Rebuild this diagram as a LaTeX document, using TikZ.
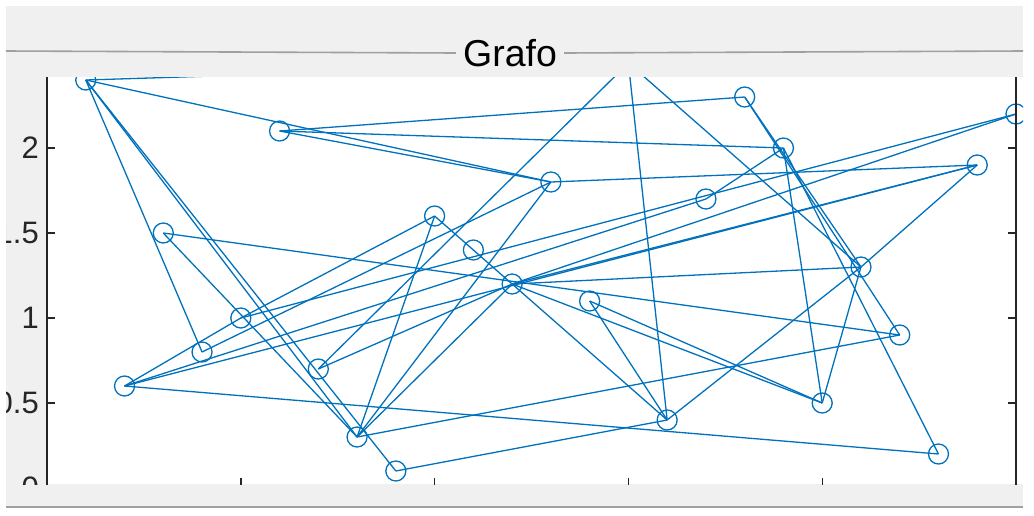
\documentclass[tikz,border=0pt]{standalone}
\usepackage{fontspec}
\setmainfont{Liberation Sans}
\definecolor{mblue}{HTML}{0072BD}
\definecolor{panelgray}{HTML}{F0F0F0}
\definecolor{framegray}{HTML}{A0A0A0}
\definecolor{axisgray}{HTML}{262626}
\begin{document}
\begin{tikzpicture}[x=1pt,y=-1pt,
  mk/.style={circle,draw=mblue,line width=1.3pt,minimum size=20pt,inner sep=0pt},
  edge/.style={draw=mblue,line width=1.3pt},
  axisline/.style={draw=axisgray,line width=1.4pt},
  ticklab/.style={font=\fontsize{31}{31}\selectfont,text=axisgray,anchor=east,inner sep=0pt}]
\useasboundingbox (0,0) rectangle (1034,515);
\fill[white] (0,0) rectangle (1034,515);
\fill[panelgray] (6,6) rectangle (1023,508);
\node[font=\fontsize{37.5}{37.5}\selectfont,inner xsep=7pt,inner ysep=0pt,fill=panelgray] (title) at (510,53) {Grafo};
\draw[framegray,line width=1.6pt] (6,51) -- (title.west);
\draw[framegray,line width=1.6pt] (title.east) -- (1023,51);
\draw[framegray,line width=1.6pt] (6,507) -- (1023,507);
\begin{scope}
\clip (6,77) rectangle (1023,484);
\fill[white] (47,77) rectangle (1023,484);
% nodes: x=47+38.76*v, y=488-170*v
\foreach \i/\yy in {1/2.4,2/0.6,3/1.5,4/0.8,5/1.0,6/2.1,7/0.7,8/0.3,9/0.1,10/1.6,11/1.4,12/1.2,13/1.8,14/1.1,15/2.5,16/0.4,17/1.7,18/2.3,19/2.0,20/0.5,21/1.3,22/0.9,23/0.2,24/1.9,25/2.2}
  \node[mk] (n\i) at ({47+38.76*\i},{488-170*\yy}) {};
\foreach \a/\b in {1/15,1/13,1/4,1/8,1/9,6/18,6/19,6/13,3/8,3/22,2/5,2/17,2/23,4/13,5/10,7/12,7/15,8/10,8/12,8/13,8/22,9/16,10/16,12/24,12/20,12/21,12/25,13/24,14/16,14/20,15/16,15/21,16/21,17/19,18/21,18/22,19/20,19/23,20/21,21/24,24/2,25/5}
  \draw[edge] (n\a.center) -- (n\b.center);
% axes
\draw[axisline] (47,60) -- (47,490);
\draw[axisline] (1016,60) -- (1016,490);
\foreach \v/\t in {2/2,1.5/1.5,1/1,0.5/0.5,0/0}{
  \draw[axisline] (47,{488-170*\v}) -- (55,{488-170*\v});
  \draw[axisline] (1016,{488-170*\v}) -- (1008,{488-170*\v});
  \node[ticklab] (yl\t) at (39,{488-170*\v}) {\t};
}
\foreach \v in {5,10,15,20}
  \draw[axisline] ({47+38.76*\v},486) -- ({47+38.76*\v},478);
\end{scope}
\end{tikzpicture}
\end{document}
